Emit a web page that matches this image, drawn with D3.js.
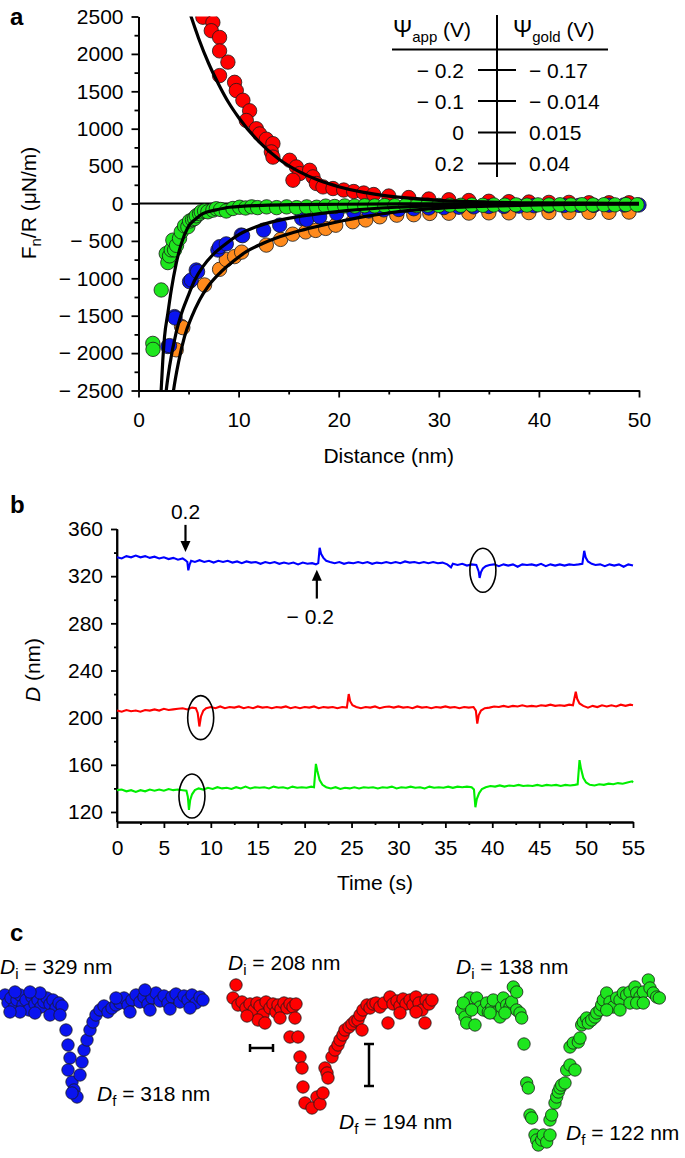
<!DOCTYPE html>
<html><head><meta charset="utf-8">
<script src="https://cdn.jsdelivr.net/npm/d3@7"></script>
<style>
body{margin:0;background:#fff;}
svg{display:block;font-family:"Liberation Sans",Arial,Helvetica,sans-serif;}
</style></head><body>
<script>
// ---------------- Panel a data ----------------
const aXTicks = [0,10,20,30,40,50];
const aXMinor = [5,15,25,35,45];
const aYTicks = [-2500,-2000,-1500,-1000,-500,0,500,1000,1500,2000,2500];
const aYMinor = [-2250,-1750,-1250,-750,-250,250,750,1250,1750,2250];
const psiApp  = ["\u2212 0.2","\u2212 0.1","0","0.2"];
const psiGold = ["\u2212 0.17","\u2212 0.014","0.015","0.04"];

const redPts = [[6.43,2490],[7.43,2420],[7.27,2310],[8.1,2220],[8.1,2040],[8.93,1890],[8.1,1710],[9.6,1620],[9.77,1510],[10.43,1380],[11.1,1240],[10.77,1110],[11.77,1000],[12.1,930],[12.77,860],[13.43,800],[13.27,690],[13.43,620],[15.1,578],[15.77,489],[16.1,400],[15.43,311],[17.1,444],[17.43,356],[17.77,267],[18.43,222],[19.43,200],[20.5,180],[21.5,160],[22.5,140],[23.5,120],[25,100],[27,80],[29,60],[31,50],[33,40],[35,30],[37,25],[39,20],[41,15],[43,15],[45,10],[47,10],[49,10]];
const orangePts = [[3.77,-1956],[4.3,-1645],[4.43,-1660],[6.6,-1089],[8.1,-880],[8.77,-750],[9.6,-710],[10.3,-650],[12.77,-556],[14.2,-480],[15.4,-410],[16.7,-380],[17.7,-360],[18.7,-333],[19.7,-290],[21.4,-244],[22.7,-220],[24.1,-178],[25.8,-156],[27.5,-150],[29.1,-133],[31,-130],[33,-128],[35,-125],[37,-125],[39,-122],[41,-120],[43,-120],[45,-118],[47,-118],[49,-115]];
const bluePts = [[2.93,-1912],[3.1,-1900],[3.6,-1512],[3.65,-1530],[5.1,-1045],[5.27,-1022],[5.77,-889],[5.9,-911],[7.93,-622],[8.1,-578],[8.77,-540],[10.27,-422],[10.4,-430],[12.5,-356],[14.1,-289],[16.3,-200],[16.8,-215],[18.1,-178],[19.8,-133],[21.5,-110],[23,-100],[24.5,-85],[26,-80],[27.5,-70],[29,-60],[30.5,-55],[32,-50],[33.5,-45],[35,-40],[36.5,-40],[38,-35],[39.5,-30],[41,-30],[42.5,-28],[44,-25],[45.5,-25],[47,-22],[48.5,-20],[50,-20]];
const greenPts = [[1.43,-1870],[1.45,-1950],[2.27,-1156],[2.77,-670],[2.93,-790],[3.1,-700],[3.27,-620],[3.43,-490],[3.6,-620],[3.8,-560],[4.1,-467],[4.27,-380],[4.6,-300],[4.93,-311],[5.1,-235],[5.4,-215],[5.6,-200],[5.77,-165],[6.1,-135],[6.27,-111],[6.6,-100],[6.93,-111],[7.43,-89],[7.77,-70],[8.2,-80],[8.77,-100],[9.43,-67],[10.1,-50],[10.7,-60],[11.3,-45],[11.9,-55],[12.8,-45],[13.8,-55],[14.8,-45],[15.8,-55],[16.8,-45],[17.8,-50],[18.7,-35],[19.6,-40],[20.6,-32],[21.6,-35],[22.6,-30],[23.6,-32],[24.6,-28],[25.6,-30],[26.7,-25],[27.8,-28],[28.9,-22],[30,-26],[31.1,-22],[32.2,-24],[33.3,-20],[34.4,-24],[35.5,-20],[36.6,-22],[37.7,-18],[38.8,-22],[39.9,-18],[41,-20],[42.1,-17],[43.2,-20],[44.3,-16],[45.4,-19],[46.5,-16],[47.6,-18],[48.7,-15],[49.8,-17]];

const fitRed = [[5.0,2600],[5.3,2480],[6,2210],[7,1875],[8,1595],[9,1350],[10,1150],[12,830],[14,595],[16,430],[18,310],[20,225],[22.5,148],[25,98],[30,43],[35,19],[40,8],[45,4],[50,2]];
const fitGreen = [[2.2,-2650],[2.43,-2090],[2.6,-1780],[2.93,-1470],[3.27,-1160],[3.77,-800],[4.27,-540],[4.93,-320],[5.77,-200],[6.43,-135],[7.77,-85],[9.1,-50],[12.4,-25],[16,-15],[20,-10],[30,-4],[40,-2],[50,-1]];
const fitBlue = [[2.65,-2650],[2.77,-2500],[3.1,-2180],[3.77,-1720],[4.27,-1480],[4.93,-1245],[5.6,-1030],[6.43,-845],[7.43,-685],[8.77,-535],[10.1,-410],[11.77,-310],[13.77,-232],[15.77,-180],[18.1,-135],[20.77,-95],[25.77,-50],[30,-28],[35,-15],[40,-8],[50,-2]];
const fitOrange = [[3.35,-2650],[3.5,-2500],[4.0,-2120],[4.6,-1778],[5.3,-1520],[6.1,-1289],[7.0,-1100],[8.1,-933],[9.4,-780],[10.77,-644],[12.4,-535],[14.1,-444],[16.2,-360],[18.4,-289],[20.4,-230],[22.4,-178],[24.8,-130],[27.4,-89],[31,-55],[35,-35],[40,-18],[45,-10],[50,-5]];

// ---------------- Panel b data ----------------
const bXTicks = [0,5,10,15,20,25,30,35,40,45,50,55];
const bXMinor = [2.5,7.5,12.5,17.5,22.5,27.5,32.5,37.5,42.5,47.5,52.5];
const bYTicks = [120,160,200,240,280,320,360];
const bYMinor = [140,180,220,260,300,340];
const traceBlue = [[0,336],[0.5,335],[1,337],[1.5,336],[2,337.5],[2.5,336],[3,337],[3.5,335.5],[4,336.5],[4.5,335],[5,336],[5.5,334.5],[6,335.5],[6.5,334],[7,335],[7.3,333.5],[7.5,332],[7.6,325],[7.75,330],[7.9,333],[8.3,332],[8.8,333.5],[9.3,332],[9.8,333],[10.3,331.5],[10.8,333],[11.3,332],[11.8,333],[12.3,331.5],[12.8,332.5],[13.3,331],[13.8,332.5],[14.3,331.5],[14.8,332],[15.3,330.5],[15.8,332],[16.3,331],[16.8,332],[17.3,330.5],[17.8,331.5],[18.3,330.5],[18.8,331.5],[19.3,330],[19.8,331.5],[20.3,330.5],[20.8,331],[21.2,330],[21.45,331],[21.6,344],[21.75,339],[22,335.5],[22.3,333],[22.7,332],[23.2,331],[23.7,332],[24.2,330.5],[24.7,331.5],[25.2,331],[25.7,332],[26.2,331],[26.7,332],[27.2,330.5],[27.7,331.5],[28.2,331],[28.7,332],[29.2,331],[29.7,332],[30.2,331],[30.7,332.5],[31.2,331.5],[31.7,332],[32.2,331],[32.7,332],[33.2,331],[33.7,332],[34.2,331],[34.7,331.5],[35.2,330],[35.6,327.5],[35.8,330.5],[36.3,329.5],[36.8,330.5],[37.3,329],[37.8,330],[38.3,329.5],[38.55,324],[38.65,318.5],[38.8,323.5],[39.0,326.5],[39.3,328.5],[39.7,329.5],[40.2,330],[40.7,328.5],[41.2,330],[41.7,329],[42.2,330],[42.7,328],[43.2,330],[43.7,329.5],[44.2,330],[44.7,329],[45.2,330.5],[45.7,328.5],[46.2,330],[46.7,329],[47.2,330],[47.7,329],[48.2,330],[48.7,329.5],[49.2,330],[49.6,330.5],[49.8,341.5],[49.95,336],[50.2,332.5],[50.6,330.5],[51,329.5],[51.5,330],[52,328.5],[52.5,330],[53,329],[53.5,330],[54,328],[54.5,330],[55,329]];
const traceRed = [[0,206],[0.5,205],[1,206.5],[1.5,205.5],[2,206],[2.5,205],[3,206.5],[3.5,206],[4,207],[4.5,206],[5,207.5],[5.5,206.5],[6,207],[6.5,207.5],[7,208],[7.5,207],[8,208.5],[8.4,208],[8.6,204],[8.78,192.5],[8.95,201],[9.2,206],[9.5,208],[10,209],[10.5,208],[11,209.5],[11.5,208],[12,209],[12.5,208.5],[13,209.5],[13.5,208],[14,209],[14.5,208],[15,209.5],[15.5,208.5],[16,209],[16.5,208],[17,209],[17.5,208.5],[18,209.5],[18.5,208],[19,209],[19.5,208],[20,209],[20.5,208.5],[21,209.5],[21.5,208],[22,209],[22.5,208.5],[23,209],[23.5,208],[24,209],[24.5,208.5],[24.7,220],[24.85,214],[25.1,210.5],[25.5,209],[26,208],[26.5,209],[27,208.5],[27.5,209.5],[28,208],[28.5,209],[29,209.5],[29.5,208.5],[30,209.5],[30.5,208.5],[31,209],[31.5,208],[32,209.5],[32.5,208.5],[33,209],[33.5,208],[34,209],[34.5,208.5],[35,209.5],[35.5,208.5],[36,209],[36.5,208],[37,209],[37.5,208.5],[38,209],[38.25,206],[38.4,195],[38.55,202],[38.8,206],[39.2,208],[39.7,208.5],[40.2,209.5],[40.7,209],[41.2,210],[41.7,209],[42.2,210],[42.7,209.5],[43.2,210.5],[43.7,209.5],[44.2,210],[44.7,209.5],[45.2,210.5],[45.7,210],[46.2,211],[46.7,210],[47.2,210.5],[47.7,210],[48.2,211],[48.6,210.5],[48.9,222],[49.05,216],[49.3,212],[49.7,210],[50.2,208.5],[50.7,210],[51.2,209],[51.7,210.5],[52.2,209.5],[52.7,210.5],[53.2,209.5],[53.7,211],[54.2,210],[54.7,211],[55,210.5]];
const traceGreen = [[0,138.5],[0.5,139],[1,137.5],[1.5,138.5],[2,137],[2.5,138.5],[3,137.5],[3.5,139],[4,138],[4.5,139],[5,138],[5.5,139.5],[6,138.5],[6.5,139],[7,138.5],[7.4,138],[7.55,133],[7.67,121.8],[7.8,130],[8,135],[8.3,138.5],[8.7,140],[9.2,139],[9.7,140.5],[10.2,139.5],[10.7,141],[11.2,140],[11.7,140.5],[12.2,139.5],[12.7,141],[13.2,140],[13.7,141.5],[14.2,140],[14.7,141],[15.2,140.5],[15.7,141],[16.2,140],[16.7,141.5],[17.2,140.5],[17.7,141],[18.2,140],[18.7,141.5],[19.2,140.5],[19.7,141],[20.2,140.5],[20.7,141.5],[21.0,141],[21.2,160.8],[21.35,155],[21.6,147],[21.9,143],[22.3,141],[22.8,140],[23.3,141],[23.8,139.5],[24.3,140.5],[24.8,140],[25.3,141],[25.8,140],[26.3,141],[26.8,140.5],[27.3,141],[27.8,140],[28.3,141],[28.8,140.5],[29.3,141.5],[29.8,140],[30.3,141],[30.8,140.5],[31.3,141.5],[31.8,140.5],[32.3,141],[32.8,140],[33.3,141.5],[33.8,140.5],[34.3,141],[34.8,140.5],[35.3,141.5],[35.8,140.5],[36.3,141.5],[36.8,141],[37.3,141.5],[37.8,141],[38.05,139],[38.2,124],[38.35,131],[38.6,136],[38.9,139.5],[39.3,141],[39.8,142],[40.3,141.5],[40.8,142.5],[41.3,141.5],[41.8,142.5],[42.3,142],[42.8,143],[43.3,142],[43.8,142.5],[44.3,142],[44.8,143],[45.3,142],[45.8,143],[46.3,142.5],[46.8,143],[47.3,142],[47.8,143],[48.3,142.5],[48.8,143],[49.1,143.5],[49.3,164],[49.45,157],[49.7,149],[50,145],[50.4,143],[50.9,142.5],[51.4,143.5],[51.9,143],[52.4,144],[52.9,143.5],[53.4,144.5],[53.9,144],[54.4,145],[54.9,146],[55,145]];
// circled events [t, D]
const circledEvents = [[39.0,325],[8.92,200],[7.99,133.5]];

// ---------------- Panel c data [time ms, D nm] ----------------
const cBlue = [[30,329.8],[60,329],[90,329.5],[120,328.5],[150,329.3],[180,329.8],[210,328.8],[240,329.3],[270,328.3],[300,329.6],[330,328.9],[360,329.3],[390,328.6],[420,329.1],[450,329.5],[480,328.9],[510,329.3],[540,328.5],[570,329],[600,328.7],[180,328.1],[330,328],[480,327.8],[80,328.1],[380,330],[280,330.1],[130,330.1],[580,327.8],[640,326.3],[660,324.8],[680,323.5],[660,322.3],[700,321.1],[720,320.3],[750,319.6],[700,320],[780,321.8],[800,323.1],[820,324.3],[850,325.3],[880,326.3],[910,327.1],[940,327.8],[980,328.3],[1020,328.7],[1060,328.1],[1100,328.5],[1140,328.8],[1180,329],[1220,329.5],[1260,328.8],[1300,329.3],[1340,329.8],[1380,329.1],[1420,329.6],[1460,328.9],[1500,329.5],[1540,330],[1580,329.2],[1620,329.7],[1660,329],[1700,329.6],[1740,329.9],[1780,329.1],[1820,329.7],[1860,329.3],[1900,329.8],[1940,329],[1980,329.6],[2010,329.3],[1140,329.5],[1280,328.1],[1480,328.3],[1680,328.4],[1880,328.5],[1430,330.3]];
const cRed = [[40,210],[10,208.7],[60,208],[100,208.3],[140,207.7],[180,208.1],[220,207.5],[250,208.2],[280,207.9],[310,207],[340,208.3],[380,207.7],[410,208.1],[440,207.3],[260,206.5],[330,206.2],[460,208],[490,207.6],[520,208.2],[550,207.7],[580,208.1],[610,207.8],[640,208.1],[480,206.7],[150,206.9],[630,206.7],[580,204.8],[660,204.8],[680,202.8],[700,201.7],[710,199.8],[730,198.2],[800,197.7],[850,198.8],[880,198.1],[910,199.2],[930,201.7],[950,201.2],[960,200.7],[1000,202.8],[1030,203.5],[1060,204],[1080,204.5],[1110,205],[1130,205.5],[1170,205.8],[1200,206.1],[1230,206.4],[1260,206.5],[1300,205.5],[1280,207],[1310,207.5],[1350,208],[1380,207.7],[1410,208.1],[1440,208.2],[1480,207.8],[1520,208.2],[1560,206.2],[1580,208.8],[1610,208.1],[1650,208.4],[1680,207.9],[1710,208.6],[1740,208.1],[1780,208.5],[1810,208],[1840,208.8],[1870,208.2],[1900,207.5],[1930,206.2],[1940,208.5],[1970,208.1],[2000,208.5],[1840,207.3],[1680,207.2]];
const cGreen = [[17,138],[50,137.3],[67,136.7],[100,139.2],[150,136.5],[167,139.2],[200,138.3],[233,138],[267,138.7],[283,137.8],[317,138.2],[333,139],[350,137.7],[400,137.3],[417,138.3],[433,139.2],[467,138.5],[500,138.3],[517,138.8],[533,140.3],[567,139.8],[567,138],[600,137.7],[617,137.2],[33,138.7],[117,138],[300,137.7],[450,137.7],[640,134.6],[667,130.7],[683,130.2],[700,127.5],[717,127.2],[750,125.5],[767,125],[783,124.5],[817,125],[833,125.5],[867,124.8],[900,125.5],[900,127],[917,127.5],[950,128.7],[967,129.3],[983,129.8],[1000,130.2],[1017,130.5],[1050,130.7],[1067,132],[1100,132.5],[1150,132],[1100,134.3],[1133,134.7],[1183,134.8],[1200,135.2],[1217,136.5],[1233,136.8],[1267,137.2],[1283,136.7],[1317,137],[1350,137.3],[1367,137.7],[1400,138],[1417,138.5],[1433,139],[1467,139.7],[1500,138.8],[1533,138.3],[1567,139.2],[1600,139],[1633,139.7],[1667,139.5],[1700,139.8],[1750,140.3],[1767,139.7],[1800,139.3],[1833,139.8],[1883,141],[1900,140.2],[1933,139.7],[1967,139.3],[1993,139.2],[1700,138.7],[1767,138.7],[1833,138.7],[1600,138],[1467,138]];

// ---------------- drawing ----------------
const FONT = '"Liberation Sans", Arial, Helvetica, sans-serif';
const FS = 21;
const COL = {red:"#ff0000", orange:"#ff8a1c", blue:"#0a14f0", green:"#1ee61e"};
const svg = d3.select("body").append("svg").attr("width",685).attr("height",1158);
svg.append("rect").attr("width",685).attr("height",1158).attr("fill","#fff");

function styleAxis(g){
  g.attr("font-family",FONT).attr("font-size",FS);
  g.selectAll("path,line").attr("stroke","#000").attr("stroke-width",1.8);
  g.selectAll("text").attr("fill","#000");
}
const fmtNeg = d => d<0 ? "\u2212 " + Math.abs(d) : String(d);

// ===== Panel a =====
const xA = d3.scaleLinear().domain([0,50]).range([138.5,639]);
const yA = d3.scaleLinear().domain([-2500,2500]).range([390.5,16.5]);

svg.append("text").attr("x",10).attr("y",25).attr("font-size",24).attr("font-weight","bold").text("a");

const gAy = svg.append("g").attr("transform",`translate(${xA(0)},0)`);
gAy.call(d3.axisLeft(yA).tickValues(aYTicks).tickSize(7).tickSizeOuter(0).tickPadding(8).tickFormat(fmtNeg));
gAy.append("g").call(d3.axisLeft(yA).tickValues(aYMinor).tickSize(4).tickSizeOuter(0).tickFormat(""));
styleAxis(gAy);
const gAx = svg.append("g").attr("transform",`translate(0,${yA(-2500)})`);
gAx.call(d3.axisBottom(xA).tickValues(aXTicks).tickSize(7).tickSizeOuter(0).tickPadding(15));
gAx.append("g").call(d3.axisBottom(xA).tickValues(aXMinor).tickSize(4).tickSizeOuter(0).tickFormat(""));
styleAxis(gAx);

svg.append("text").attr("x",(xA(0)+xA(50))/2).attr("y",463).attr("text-anchor","middle").attr("font-size",FS).text("Distance (nm)");
const yt = svg.append("text").attr("transform",`translate(36,203) rotate(-90)`).attr("text-anchor","middle").attr("font-size",FS);
yt.append("tspan").text("F");
yt.append("tspan").attr("font-size",15).attr("dy",5).text("n");
yt.append("tspan").attr("dy",-5).text("/R (\u03BCN/m)");

// zero line
svg.append("line").attr("x1",xA(0)).attr("x2",xA(50)).attr("y1",yA(0)).attr("y2",yA(0)).attr("stroke","#000").attr("stroke-width",2);

svg.append("clipPath").attr("id","clipA").append("rect")
  .attr("x",xA(0)).attr("y",yA(2500)).attr("width",xA(50)-xA(0)+8).attr("height",yA(-2500)-yA(2500));
const plotA = svg.append("g").attr("clip-path","url(#clipA)");
function dotsA(data,color){
  plotA.append("g").selectAll("circle").data(data).join("circle")
    .attr("cx",d=>xA(d[0])).attr("cy",d=>yA(d[1])).attr("r",7.2)
    .attr("fill",color).attr("stroke","#1a1a1a").attr("stroke-width",0.8);
}
dotsA(redPts,COL.red);
dotsA(orangePts,COL.orange);
dotsA(bluePts,COL.blue);
dotsA(greenPts,COL.green);
const lineA = d3.line().x(d=>xA(d[0])).y(d=>yA(d[1])).curve(d3.curveMonotoneX);
[fitRed,fitGreen,fitBlue,fitOrange].forEach(f=>{
  plotA.append("path").attr("d",lineA(f)).attr("fill","none").attr("stroke","#000").attr("stroke-width",3.2);
});

// table
const tab = svg.append("g").attr("font-size",FS);
tab.append("line").attr("x1",497).attr("x2",497).attr("y1",15).attr("y2",177).attr("stroke","#000").attr("stroke-width",2);
tab.append("line").attr("x1",392).attr("x2",608).attr("y1",49.5).attr("y2",49.5).attr("stroke","#000").attr("stroke-width",2);
function psiHead(x,sub){
  const t = tab.append("text").attr("x",x).attr("y",37);
  t.append("tspan").attr("font-size",23).text("\u03A8");
  t.append("tspan").attr("font-size",15).attr("dy",5).text(sub);
  t.append("tspan").attr("dy",-5).text(" (V)");
}
psiHead(393,"app");
psiHead(513,"gold");
const rowY = [70,101,132.5,163.5];
psiApp.forEach((s,i)=>{
  tab.append("text").attr("x",464).attr("y",rowY[i]+7.5).attr("text-anchor","end").text(s);
  tab.append("line").attr("x1",478).attr("x2",516).attr("y1",rowY[i]).attr("y2",rowY[i]).attr("stroke","#000").attr("stroke-width",2);
  tab.append("text").attr("x",529).attr("y",rowY[i]+7.5).text(psiGold[i]);
});

// ===== Panel b =====
const xB = d3.scaleLinear().domain([0,55]).range([117,633]);
const yB = d3.scaleLinear().domain([111.5,360]).range([822,529]);

svg.append("text").attr("x",10).attr("y",513).attr("font-size",24).attr("font-weight","bold").text("b");

const gBy = svg.append("g").attr("transform",`translate(${xB(0)},0)`);
gBy.call(d3.axisLeft(yB).tickValues(bYTicks).tickSize(6).tickSizeOuter(0).tickPadding(8));
gBy.append("g").call(d3.axisLeft(yB).tickValues(bYMinor).tickSize(3).tickSizeOuter(0).tickFormat(""));
styleAxis(gBy);
gBy.select(".domain").attr("d",`M0,${yB(360)}V${yB(111.5)}`);
const gBx = svg.append("g").attr("transform",`translate(0,${yB(111.5)})`);
gBx.call(d3.axisBottom(xB).tickValues(bXTicks).tickSize(6).tickSizeOuter(0).tickPadding(12));
gBx.append("g").call(d3.axisBottom(xB).tickValues(bXMinor).tickSize(3).tickSizeOuter(0).tickFormat(""));
styleAxis(gBx);

svg.append("text").attr("x",(xB(0)+xB(55))/2).attr("y",890).attr("text-anchor","middle").attr("font-size",FS).text("Time (s)");
const ybt = svg.append("text").attr("transform",`translate(40,670) rotate(-90)`).attr("text-anchor","middle").attr("font-size",FS);
ybt.append("tspan").attr("font-style","italic").text("D");
ybt.append("tspan").text(" (nm)");

const lineB = d3.line().x(d=>xB(d[0])).y(d=>yB(d[1]));
[[traceBlue,"#0000ff"],[traceRed,"#ff0000"],[traceGreen,"#00ee00"]].forEach(([d,c])=>{
  svg.append("path").attr("d",lineB(d)).attr("fill","none").attr("stroke",c).attr("stroke-width",2.1).attr("stroke-linejoin","miter");
});
circledEvents.forEach(e=>{
  svg.append("ellipse").attr("cx",xB(e[0])).attr("cy",yB(e[1])).attr("rx",13).attr("ry",22)
    .attr("fill","none").attr("stroke","#000").attr("stroke-width",1.6);
});
// arrows
function arrow(x,y1,y2){ // from y1 to tip y2
  const dir = y2>y1?1:-1;
  svg.append("line").attr("x1",x).attr("x2",x).attr("y1",y1).attr("y2",y2-dir*9).attr("stroke","#000").attr("stroke-width",2.2);
  svg.append("path").attr("d",`M${x-5},${y2-dir*11}L${x+5},${y2-dir*11}L${x},${y2}Z`).attr("fill","#000");
}
arrow(xB(7.3), yB(363.5), yB(340.5));
svg.append("text").attr("x",xB(7.3)).attr("y",519).attr("text-anchor","middle").attr("font-size",FS).text("0.2");
arrow(xB(21.3), yB(301), yB(325.5));
svg.append("text").attr("x",xB(20.6)).attr("y",624).attr("text-anchor","middle").attr("font-size",FS).text("\u2212 0.2");

// ===== Panel c =====
svg.append("text").attr("x",10).attr("y",941).attr("font-size",24).attr("font-weight","bold").text("c");
const subPanels = [
  {data:cBlue, col:COL.blue, x0:2, Dref:329, yref:1003, di:"329", df:"318", diX:0, diY:974, dfX:97, dfY:1101},
  {data:cRed, col:COL.red, x0:232, Dref:208, yref:1005, di:"208", df:"194", diX:228, diY:970, dfX:339, dfY:1129},
  {data:cGreen, col:COL.green, x0:460, Dref:138, yref:1010, di:"138", df:"122", diX:456, diY:974, dfX:566, dfY:1140}
];
function dLabel(x,y,sub,val){
  const t = svg.append("text").attr("x",x).attr("y",y).attr("font-size",FS);
  t.append("tspan").attr("font-style","italic").text("D");
  t.append("tspan").attr("font-size",15).attr("dy",5).text(sub);
  t.append("tspan").attr("dy",-5).text(" = " + val + " nm");
}
let redScales = null;
subPanels.forEach(p=>{
  const xs = d3.scaleLinear().domain([0,2000]).range([p.x0,p.x0+200]);
  const ys = d3.scaleLinear().domain([p.Dref,p.Dref-10]).range([p.yref,p.yref+100]);
  if(p.col===COL.red) redScales={xs,ys};
  svg.append("g").selectAll("circle").data(p.data).join("circle")
    .attr("cx",d=>xs(d[0])).attr("cy",d=>ys(d[1])).attr("r",6.2)
    .attr("fill",p.col).attr("stroke","#1a1a1a").attr("stroke-width",0.8);
  dLabel(p.diX,p.diY,"i",p.di);
  dLabel(p.dfX,p.dfY,"f",p.df);
});
// scale bars (red sub-panel)
{
  const {xs,ys} = redScales;
  const g = svg.append("g").attr("stroke","#000").attr("stroke-width",2.5);
  const hy = ys(203.7), hx1 = xs(180), hx2 = xs(410);
  g.append("line").attr("x1",hx1).attr("x2",hx2).attr("y1",hy).attr("y2",hy);
  g.append("line").attr("x1",hx1).attr("x2",hx1).attr("y1",hy-4).attr("y2",hy+4);
  g.append("line").attr("x1",hx2).attr("x2",hx2).attr("y1",hy-4).attr("y2",hy+4);
  const vx = xs(1370), vy1 = ys(204.1), vy2 = ys(199.9);
  g.append("line").attr("x1",vx).attr("x2",vx).attr("y1",vy1).attr("y2",vy2);
  g.append("line").attr("x1",vx-5).attr("x2",vx+5).attr("y1",vy1).attr("y2",vy1);
  g.append("line").attr("x1",vx-5).attr("x2",vx+5).attr("y1",vy2).attr("y2",vy2);
}
</script></body></html>
